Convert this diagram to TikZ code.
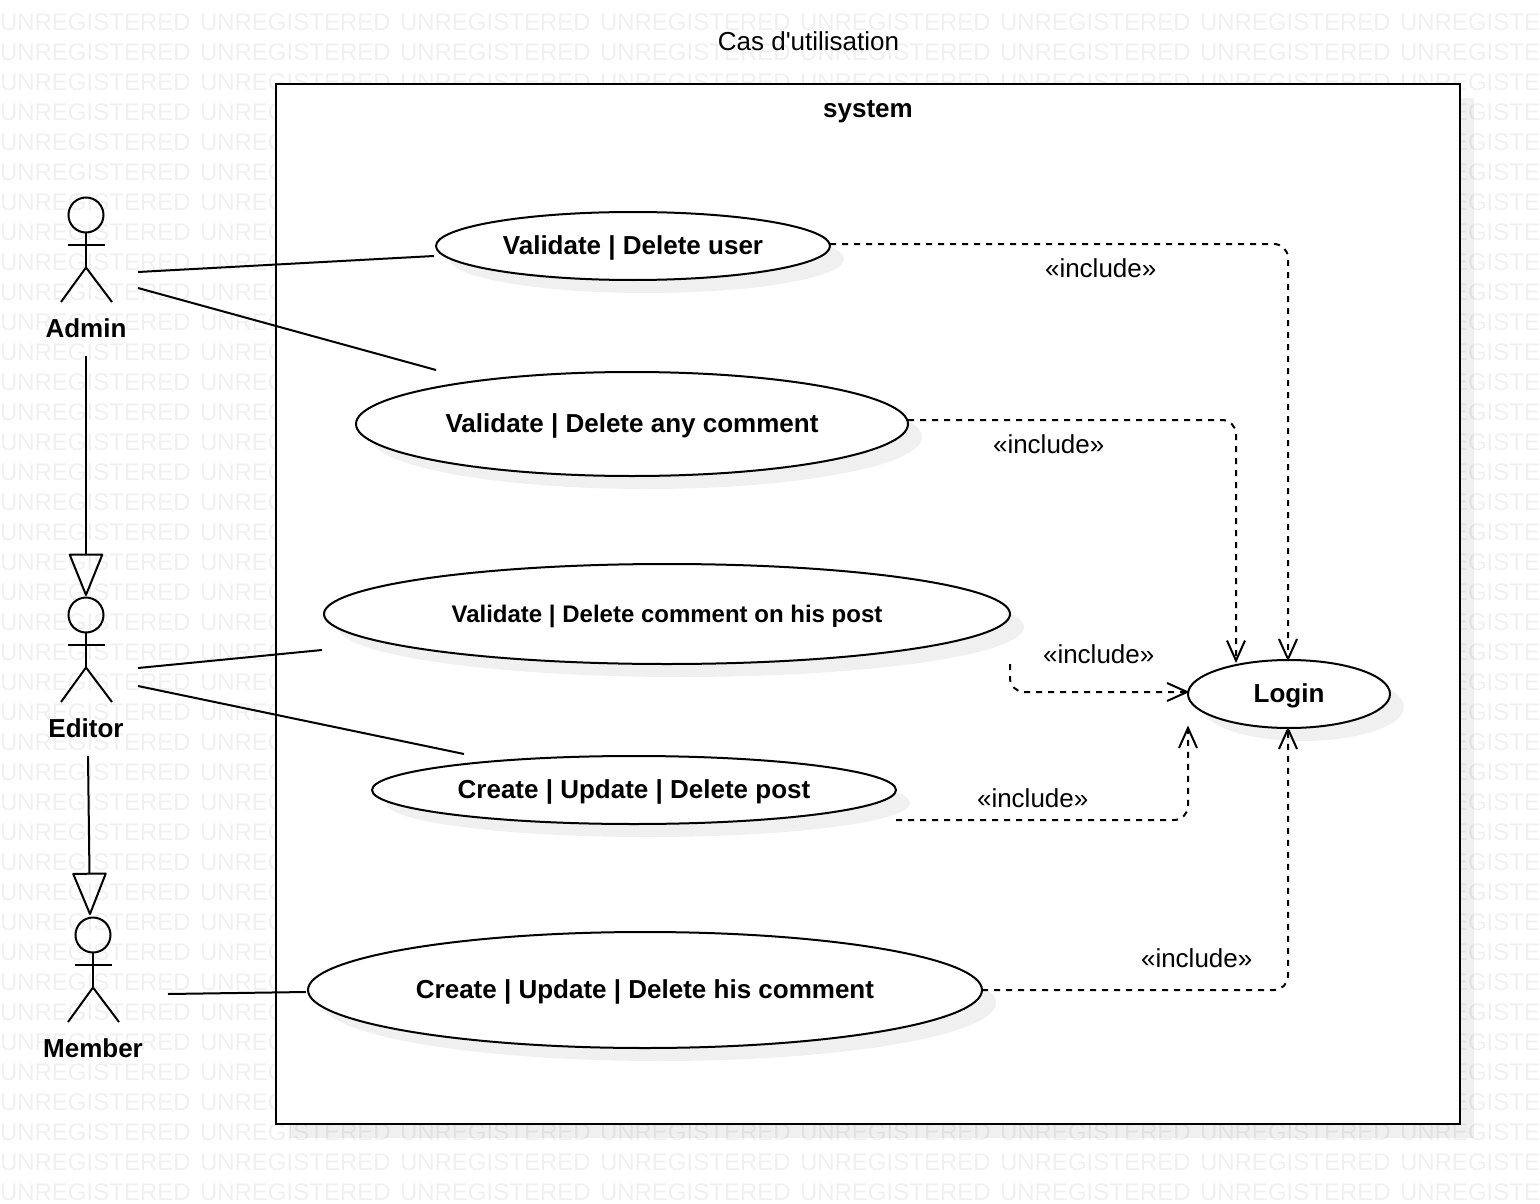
\documentclass[tikz,border=0pt]{standalone}
\usepackage{fontspec}
\setmainfont{Liberation Sans}
\usetikzlibrary{shapes.geometric,arrows.meta}
\definecolor{wmark}{HTML}{F0F0F0}
\tikzset{
  x=1pt,y=-1pt,
  wm/.style={anchor=base west,inner sep=0,outer sep=0,text=wmark,font=\fontsize{24}{24}\selectfont},
  usecase/.style={ellipse,draw=black,line width=2pt,fill=white,inner sep=0,outer sep=0,align=center,
    text height=22pt,text depth=6pt,font=\fontsize{26}{30}\selectfont\bfseries},
  shade/.style={fill=black,fill opacity=.06,draw=none},
  assoc/.style={draw=black,line width=2pt},
  gen/.style={assoc,-{Triangle[open,length=44pt,width=35pt,round=false]}},
  incl/.style={draw=black,line width=2pt,dash pattern=on 6pt off 6pt,rounded corners=14pt,
    -{Straight Barb[length=20pt,width=18pt,line width=2pt]}},
  stick/.style={draw=black,line width=2pt},
  actorlabel/.style={anchor=base,inner sep=0,font=\fontsize{26}{30}\selectfont\bfseries},
  inclabel/.style={anchor=base,inner sep=0,font=\fontsize{26}{30}\selectfont},
}
\begin{document}
\begin{tikzpicture}
\useasboundingbox (0,0) rectangle (1540,1204);
\begin{scope}
\clip (0,0) rectangle (1540,1204);
\foreach \r in {0,...,40}{
  \foreach \c in {0,...,7}{
    \node[wm] (wm\r x\c) at ({\c*200},{\r*30+0.8}) {UNREGISTERED};
  }
}
\end{scope}
% frame
\path[shade] (290,98) rectangle (1474,1138);
\node[draw=black,line width=2.4pt,fill=white,inner sep=0,outer sep=0,anchor=north west,minimum width=1184pt,minimum height=1040pt] (sys) at (276,84) {};
\node[anchor=base,inner sep=0,font=\fontsize{26}{30}\selectfont] (title) at (808.5,50.8) {Cas d\textquotesingle utilisation};
\node[anchor=base,inner sep=0,font=\fontsize{26}{30}\selectfont\bfseries] (systitle) at (868,117.8) {system};
% shadows
\foreach \cx/\cy/\w/\h in {633/246/394/68,632/424/552/104,667/614/686/100,634/790/524/68,645/990/674/116,1289/694/202/68}{
  \path[shade] ({\cx+14},{\cy+13}) ellipse [x radius=\w/2,y radius=\h/2];
}
% use cases
\node[usecase,minimum width=394pt,minimum height=68pt] (uc1) at (633,246) {Validate | Delete user};
\node[usecase,minimum width=552pt,minimum height=104pt] (uc2) at (632,424) {Validate | Delete any comment};
\node[usecase,minimum width=686pt,minimum height=100pt,font=\fontsize{24}{30}\selectfont\bfseries] (uc3) at (667,614) {Validate | Delete comment on his post};
\node[usecase,minimum width=524pt,minimum height=68pt] (uc4) at (634,790) {Create | Update | Delete post};
\node[usecase,minimum width=674pt,minimum height=116pt] (uc5) at (645,990) {Create | Update | Delete his comment};
\node[usecase,minimum width=202pt,minimum height=68pt] (login) at (1289,694) {Login};
% actors
\foreach \n/\ax/\ay/\txt in {admin/86/215/Admin,editor/86/615/Editor,member/93/935/Member}{
  \node[circle,draw=black,line width=2pt,minimum size=35pt,inner sep=0,outer sep=0] (\n head) at (\ax,\ay) {};
  \draw[stick] (\n head.south) -- ++(0,35) coordinate (\n hip);
  \draw[stick] ({\ax-18},{\ay+30}) -- ({\ax+19},{\ay+30});
  \draw[stick] ({\ax-25},{\ay+87}) -- (\n hip) -- ({\ax+26},{\ay+87});
  \node[actorlabel] (\n label) at (\ax,{\ay+122}) {\txt};
}
% association ends
\coordinate (a1) at (138,272); \coordinate (u1) at (434,256);
\coordinate (a2) at (138,288); \coordinate (u2) at (436,370);
\coordinate (e1) at (138,668); \coordinate (u3) at (322,650);
\coordinate (e2) at (138,686); \coordinate (u4) at (464,754);
\coordinate (m1) at (168,994); \coordinate (u5) at (306,992);
\draw[assoc] (a1) -- (u1);
\draw[assoc] (a2) -- (u2);
\draw[assoc] (e1) -- (u3);
\draw[assoc] (e2) -- (u4);
\draw[assoc] (m1) -- (u5);
% generalisations
\coordinate (g1s) at (86,356); \coordinate (g1e) at (86,596);
\coordinate (g2s) at (88,756); \coordinate (g2e) at (90,915);
\draw[gen] (g1s) -- (g1e);
\draw[gen] (g2s) -- (g2e);
% includes
\coordinate (i1s) at (830,244); \coordinate (i1m) at (1288,244); \coordinate (i1e) at (1288,661.5);
\coordinate (i2s) at (908,420); \coordinate (i2m) at (1236,420); \coordinate (i2e) at (1236,663);
\coordinate (i3s) at (1010,664); \coordinate (i3m) at (1010,692); \coordinate (i3e) at (1189.5,692);
\coordinate (i4s) at (896,820); \coordinate (i4m) at (1188,820); \coordinate (i4e) at (1188,725.5);
\coordinate (i5s) at (982,990); \coordinate (i5m) at (1288,990); \coordinate (i5e) at (1288,726.5);
\draw[incl] (i1s) -- (i1m) -- (i1e);
\draw[incl] (i2s) -- (i2m) -- (i2e);
\draw[incl] (i3s) -- (i3m) -- (i3e);
\draw[incl] (i4s) -- (i4m) -- (i4e);
\draw[incl] (i5s) -- (i5m) -- (i5e);
\node[inclabel] (l1) at (1100.7,277) {«include»};
\node[inclabel] (l2) at (1048.7,453) {«include»};
\node[inclabel] (l3) at (1098.7,663) {«include»};
\node[inclabel] (l4) at (1032.7,807) {«include»};
\node[inclabel] (l5) at (1196.7,967) {«include»};
\end{tikzpicture}
\end{document}
